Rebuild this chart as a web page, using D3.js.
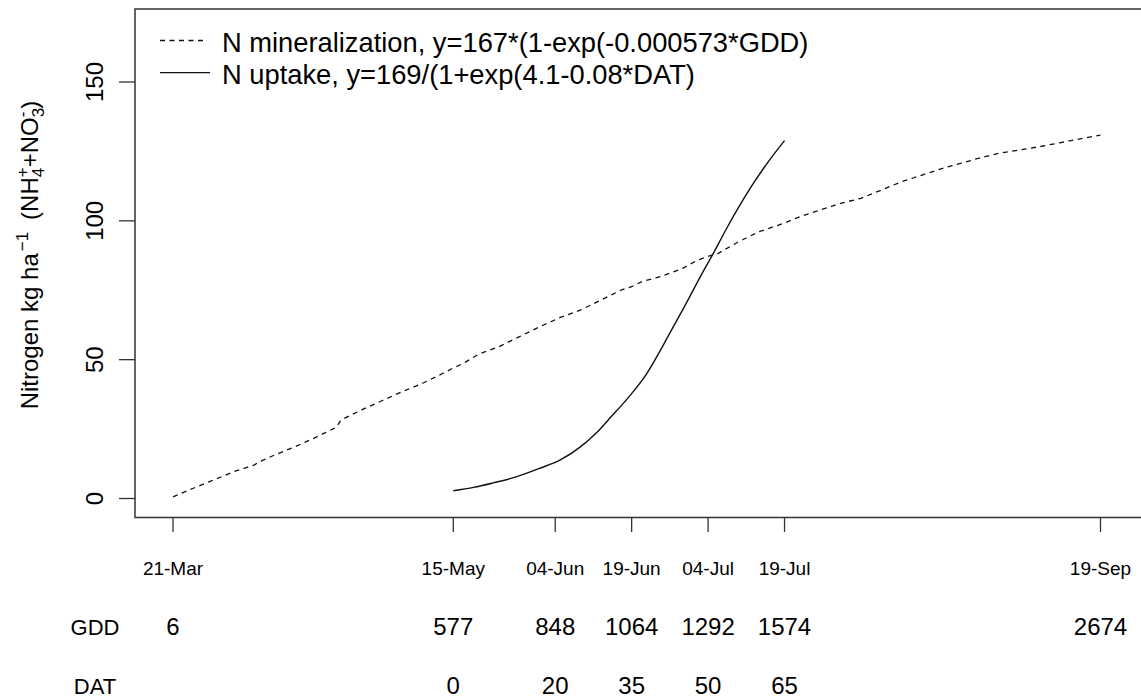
<!DOCTYPE html>
<html>
<head>
<meta charset="utf-8">
<script src="https://cdn.jsdelivr.net/npm/d3@7"></script>
<style>
  body { margin: 0; background: #fff; }
  svg { display: block; }
  text { font-family: "Liberation Sans", Arial, Helvetica, sans-serif; fill: #000; }
</style>
</head>
<body>
<svg id="chart" width="1141" height="698"></svg>
<script>
// ---- data -------------------------------------------------------------
const seasonStart = "2019-03-21";      // first day of the GDD accumulation
const transplantDate = "2019-05-15";   // DAT = 0

const tickDates  = ["2019-03-21", "2019-05-15", "2019-06-04", "2019-06-19", "2019-07-04", "2019-07-19", "2019-09-19"];
const tickLabels = ["21-Mar", "15-May", "04-Jun", "19-Jun", "04-Jul", "19-Jul", "19-Sep"];
const gddLabels  = ["6", "577", "848", "1064", "1292", "1574", "2674"];
const datLabels  = ["", "0", "20", "35", "50", "65", ""];

const yTicks = [0, 50, 100, 150];

// N mineralization (kg/ha) by days after 21-Mar
const mineralDays = [0, 4, 8, 12, 16, 17, 20, 24, 28, 30, 32, 33, 37, 41, 45, 49, 53, 55, 57, 60,
                     64, 68, 72, 75, 76, 80, 84, 88, 90, 92, 96, 100, 103, 105, 107, 111, 115, 120,
                     123, 127, 131, 135, 139, 143, 147, 151, 155, 158, 162, 166, 170, 174, 178, 182];
const mineralValues = [0.6, 3.7, 6.7, 9.7, 12.1, 13.3, 15.7, 18.7, 22.0, 23.8, 25.6, 28.3, 31.9, 35.2, 38.5, 41.5, 45.1, 47.0, 48.7, 52.0,
                       54.7, 58.3, 61.9, 64.4, 65.2, 67.9, 71.5, 75.1, 76.3, 78.1, 80.1, 82.9, 85.9, 87.2, 88.3, 92.5, 96.1, 99.2,
                       101.5, 103.9, 106.3, 108.1, 111.1, 114.1, 116.5, 118.9, 120.9, 122.5, 124.3, 125.5, 126.7, 128.1, 129.5, 130.9];

// N uptake (kg/ha) by days after transplanting
const uptakeDat    = [0, 4, 8, 12, 17, 21, 25, 28, 31, 34.5, 38, 40.5, 43, 45.7, 48.3, 51, 53.5, 56, 58.5, 61, 63, 65];
const uptakeValues = [2.8, 4.0, 5.7, 7.6, 10.9, 13.9, 18.7, 23.5, 29.5, 36.7, 45.1, 52.9, 61.3, 70.3, 79.3, 88.2, 96.8, 104.9, 112.4, 119.2, 124.2, 128.9];

const legendLabels = [
  "N mineralization, y=167*(1-exp(-0.000573*GDD)",
  "N uptake, y=169/(1+exp(4.1-0.08*DAT)"
];

// ---- scales -----------------------------------------------------------
const parse = d3.utcParse("%Y-%m-%d");
const start = parse(seasonStart);
const transplant = parse(transplantDate);
const dates = tickDates.map(parse);

const x = d3.scaleUtc()
  .domain([start, parse("2019-09-19")])
  .range([173, 1100.5]);

const y = d3.scaleLinear()
  .domain([0, 150])
  .range([498.5, 82]);

const box = { left: 135, top: 9, bottom: 517.5, right: 1145 };

const svg = d3.select("#chart");
const axisColor = "#333";

// plot frame (right side runs off the page)
svg.append("path")
  .attr("d", `M${box.right},${box.top}H${box.left}V${box.bottom}H${box.right}`)
  .attr("fill", "none")
  .attr("stroke", axisColor)
  .attr("stroke-width", 1.5);

// y axis ticks and rotated labels
const yAxis = svg.append("g");
yAxis.selectAll("line").data(yTicks).join("line")
  .attr("x1", 119).attr("x2", box.left)
  .attr("y1", d => y(d)).attr("y2", d => y(d))
  .attr("stroke", axisColor).attr("stroke-width", 1.3);
yAxis.selectAll("text").data(yTicks).join("text")
  .attr("transform", d => `translate(103,${y(d)}) rotate(-90)`)
  .attr("text-anchor", "middle")
  .attr("font-size", 24)
  .text(d => d);

// x axis ticks at the key dates
const xAxis = svg.append("g");
xAxis.selectAll("line").data(dates).join("line")
  .attr("x1", d => x(d)).attr("x2", d => x(d))
  .attr("y1", box.bottom).attr("y2", 532)
  .attr("stroke", axisColor).attr("stroke-width", 1.3);
xAxis.selectAll("text").data(tickLabels).join("text")
  .attr("x", (d, i) => x(dates[i]))
  .attr("y", 575)
  .attr("text-anchor", "middle")
  .attr("font-size", 19)
  .attr("fill", "#111")
  .text(d => d);

// GDD and DAT rows under the axis
const rows = [
  { name: "GDD", labels: gddLabels, base: 635 },
  { name: "DAT", labels: datLabels, base: 694 }
];
rows.forEach(r => {
  svg.append("text")
    .attr("x", 95).attr("y", r.base)
    .attr("text-anchor", "middle")
    .attr("font-size", 22)
    .text(r.name);
  svg.append("g").selectAll("text").data(r.labels).join("text")
    .attr("x", (d, i) => x(dates[i]))
    .attr("y", r.base)
    .attr("text-anchor", "middle")
    .attr("font-size", 24)
    .text(d => d);
});

// y axis title with super/subscripts
const title = svg.append("text")
  .attr("transform", "translate(38,255) rotate(-90)")
  .attr("text-anchor", "middle")
  .attr("font-size", 24);
title.append("tspan").text("Nitrogen kg ha");
title.append("tspan").attr("font-size", 17).attr("dx", 2).attr("dy", -10).text("\u22121");
title.append("tspan").attr("dy", 10).text("\u2002(NH");
title.append("tspan").attr("font-size", 17).attr("dy", 6).text("4");
title.append("tspan").attr("font-size", 17).attr("dx", -9.5).attr("dy", -16).text("+");
title.append("tspan").attr("dy", 10).text("+NO");
title.append("tspan").attr("font-size", 17).attr("dy", 6).text("3");
title.append("tspan").attr("font-size", 17).attr("dx", -9.5).attr("dy", -16).text("-");
title.append("tspan").attr("dx", 3).attr("dy", 10).text(")");

// curves
const lineColor = "#111";
const mineralLine = d3.line()
  .x((d, i) => x(d3.utcDay.offset(start, d)))
  .y((d, i) => y(mineralValues[i]));
svg.append("path")
  .attr("d", mineralLine(mineralDays))
  .attr("fill", "none")
  .attr("stroke", lineColor)
  .attr("stroke-width", 1.3)
  .attr("stroke-dasharray", "5,4.5");

const uptakeLine = d3.line()
  .x(d => x(new Date(transplant.getTime() + d * 864e5)))
  .y((d, i) => y(uptakeValues[i]))
  .curve(d3.curveMonotoneX);
svg.append("path")
  .attr("d", uptakeLine(uptakeDat))
  .attr("fill", "none")
  .attr("stroke", lineColor)
  .attr("stroke-width", 1.4);

// legend
const legend = svg.append("g");
const legendRows = [
  { label: legendLabels[0], dash: "5,4.5", y: 40.5, x2: 205 },
  { label: legendLabels[1], dash: null, y: 72.7, x2: 210 }
];
legendRows.forEach(r => {
  legend.append("line")
    .attr("x1", 160).attr("x2", r.x2)
    .attr("y1", r.y).attr("y2", r.y)
    .attr("stroke", lineColor)
    .attr("stroke-width", 1.3)
    .attr("stroke-dasharray", r.dash);
  legend.append("text")
    .attr("x", 222).attr("y", r.y + 11)
    .attr("font-size", 27.3)
    .text(r.label);
});
</script>
</body>
</html>
